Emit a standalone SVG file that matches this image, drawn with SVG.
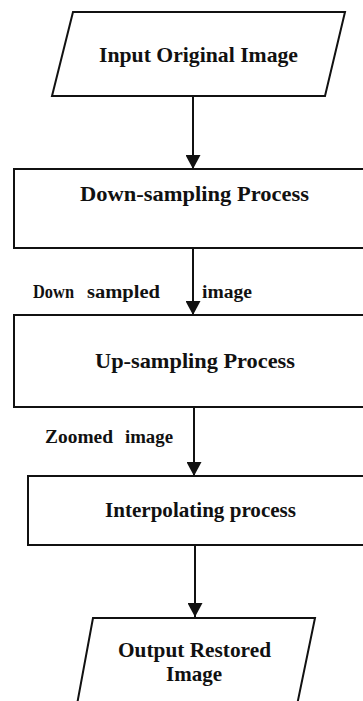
<svg xmlns="http://www.w3.org/2000/svg" width="363" height="701" viewBox="0 0 363 701">
<style>
.shape{fill:#fff;stroke:#111;stroke-width:2}
.conn{stroke:#111;stroke-width:2;fill:none}
.t{font-family:"Liberation Serif","Times New Roman",serif;font-weight:bold;fill:#111}
.title{font-size:22px}
.lbl{font-size:18px}
</style>
<defs>
<marker id="ah" viewBox="0 0 14 15" refX="14" refY="7.5" markerWidth="14" markerHeight="15" markerUnits="userSpaceOnUse" orient="auto">
<path d="M0,0 L14,7.5 L0,15 z" fill="#111"/>
</marker>
</defs>
<rect width="363" height="701" fill="#fff"/>
<g id="input">
<polygon class="shape" points="73,12 345,12 325,96 52,96"/>
<text class="t title" x="99" y="62" textLength="199" lengthAdjust="spacingAndGlyphs">Input Original  Image</text>
</g>
<g id="downsampling">
<rect class="shape" x="14" y="169" width="360" height="79"/>
<text class="t title" x="80" y="201" textLength="229" lengthAdjust="spacingAndGlyphs">Down-sampling Process</text>
</g>
<g id="upsampling">
<rect class="shape" x="14" y="315" width="360" height="92"/>
<text class="t title" x="95" y="368" textLength="200" lengthAdjust="spacingAndGlyphs">Up-sampling Process</text>
</g>
<g id="interpolating">
<rect class="shape" x="28" y="476" width="346" height="69"/>
<text class="t title" x="105" y="517" textLength="191" lengthAdjust="spacingAndGlyphs">Interpolating process</text>
</g>
<g id="output">
<polygon class="shape" points="93,618 315,618 296,710 76,710"/>
<text class="t title" x="118" y="657" textLength="153" lengthAdjust="spacingAndGlyphs">Output Restored</text>
<text class="t title" x="166" y="681" textLength="56" lengthAdjust="spacingAndGlyphs">Image</text>
</g>
<g id="connectors">
<line class="conn" x1="193" y1="96" x2="193" y2="169" marker-end="url(#ah)"/>
<line class="conn" x1="193" y1="248" x2="193" y2="315" marker-end="url(#ah)"/>
<line class="conn" x1="194" y1="407" x2="194" y2="476" marker-end="url(#ah)"/>
<line class="conn" x1="195" y1="545" x2="195" y2="617" marker-end="url(#ah)"/>
<text class="t lbl" x="33" y="298" textLength="41" lengthAdjust="spacingAndGlyphs">Down</text>
<text class="t lbl" x="87" y="298" textLength="73" lengthAdjust="spacingAndGlyphs">sampled</text>
<text class="t lbl" x="202" y="298" textLength="50" lengthAdjust="spacingAndGlyphs">image</text>
<text class="t lbl" x="45" y="443" textLength="68" lengthAdjust="spacingAndGlyphs">Zoomed</text>
<text class="t lbl" x="125" y="443" textLength="48" lengthAdjust="spacingAndGlyphs">image</text>
</g>
</svg>
